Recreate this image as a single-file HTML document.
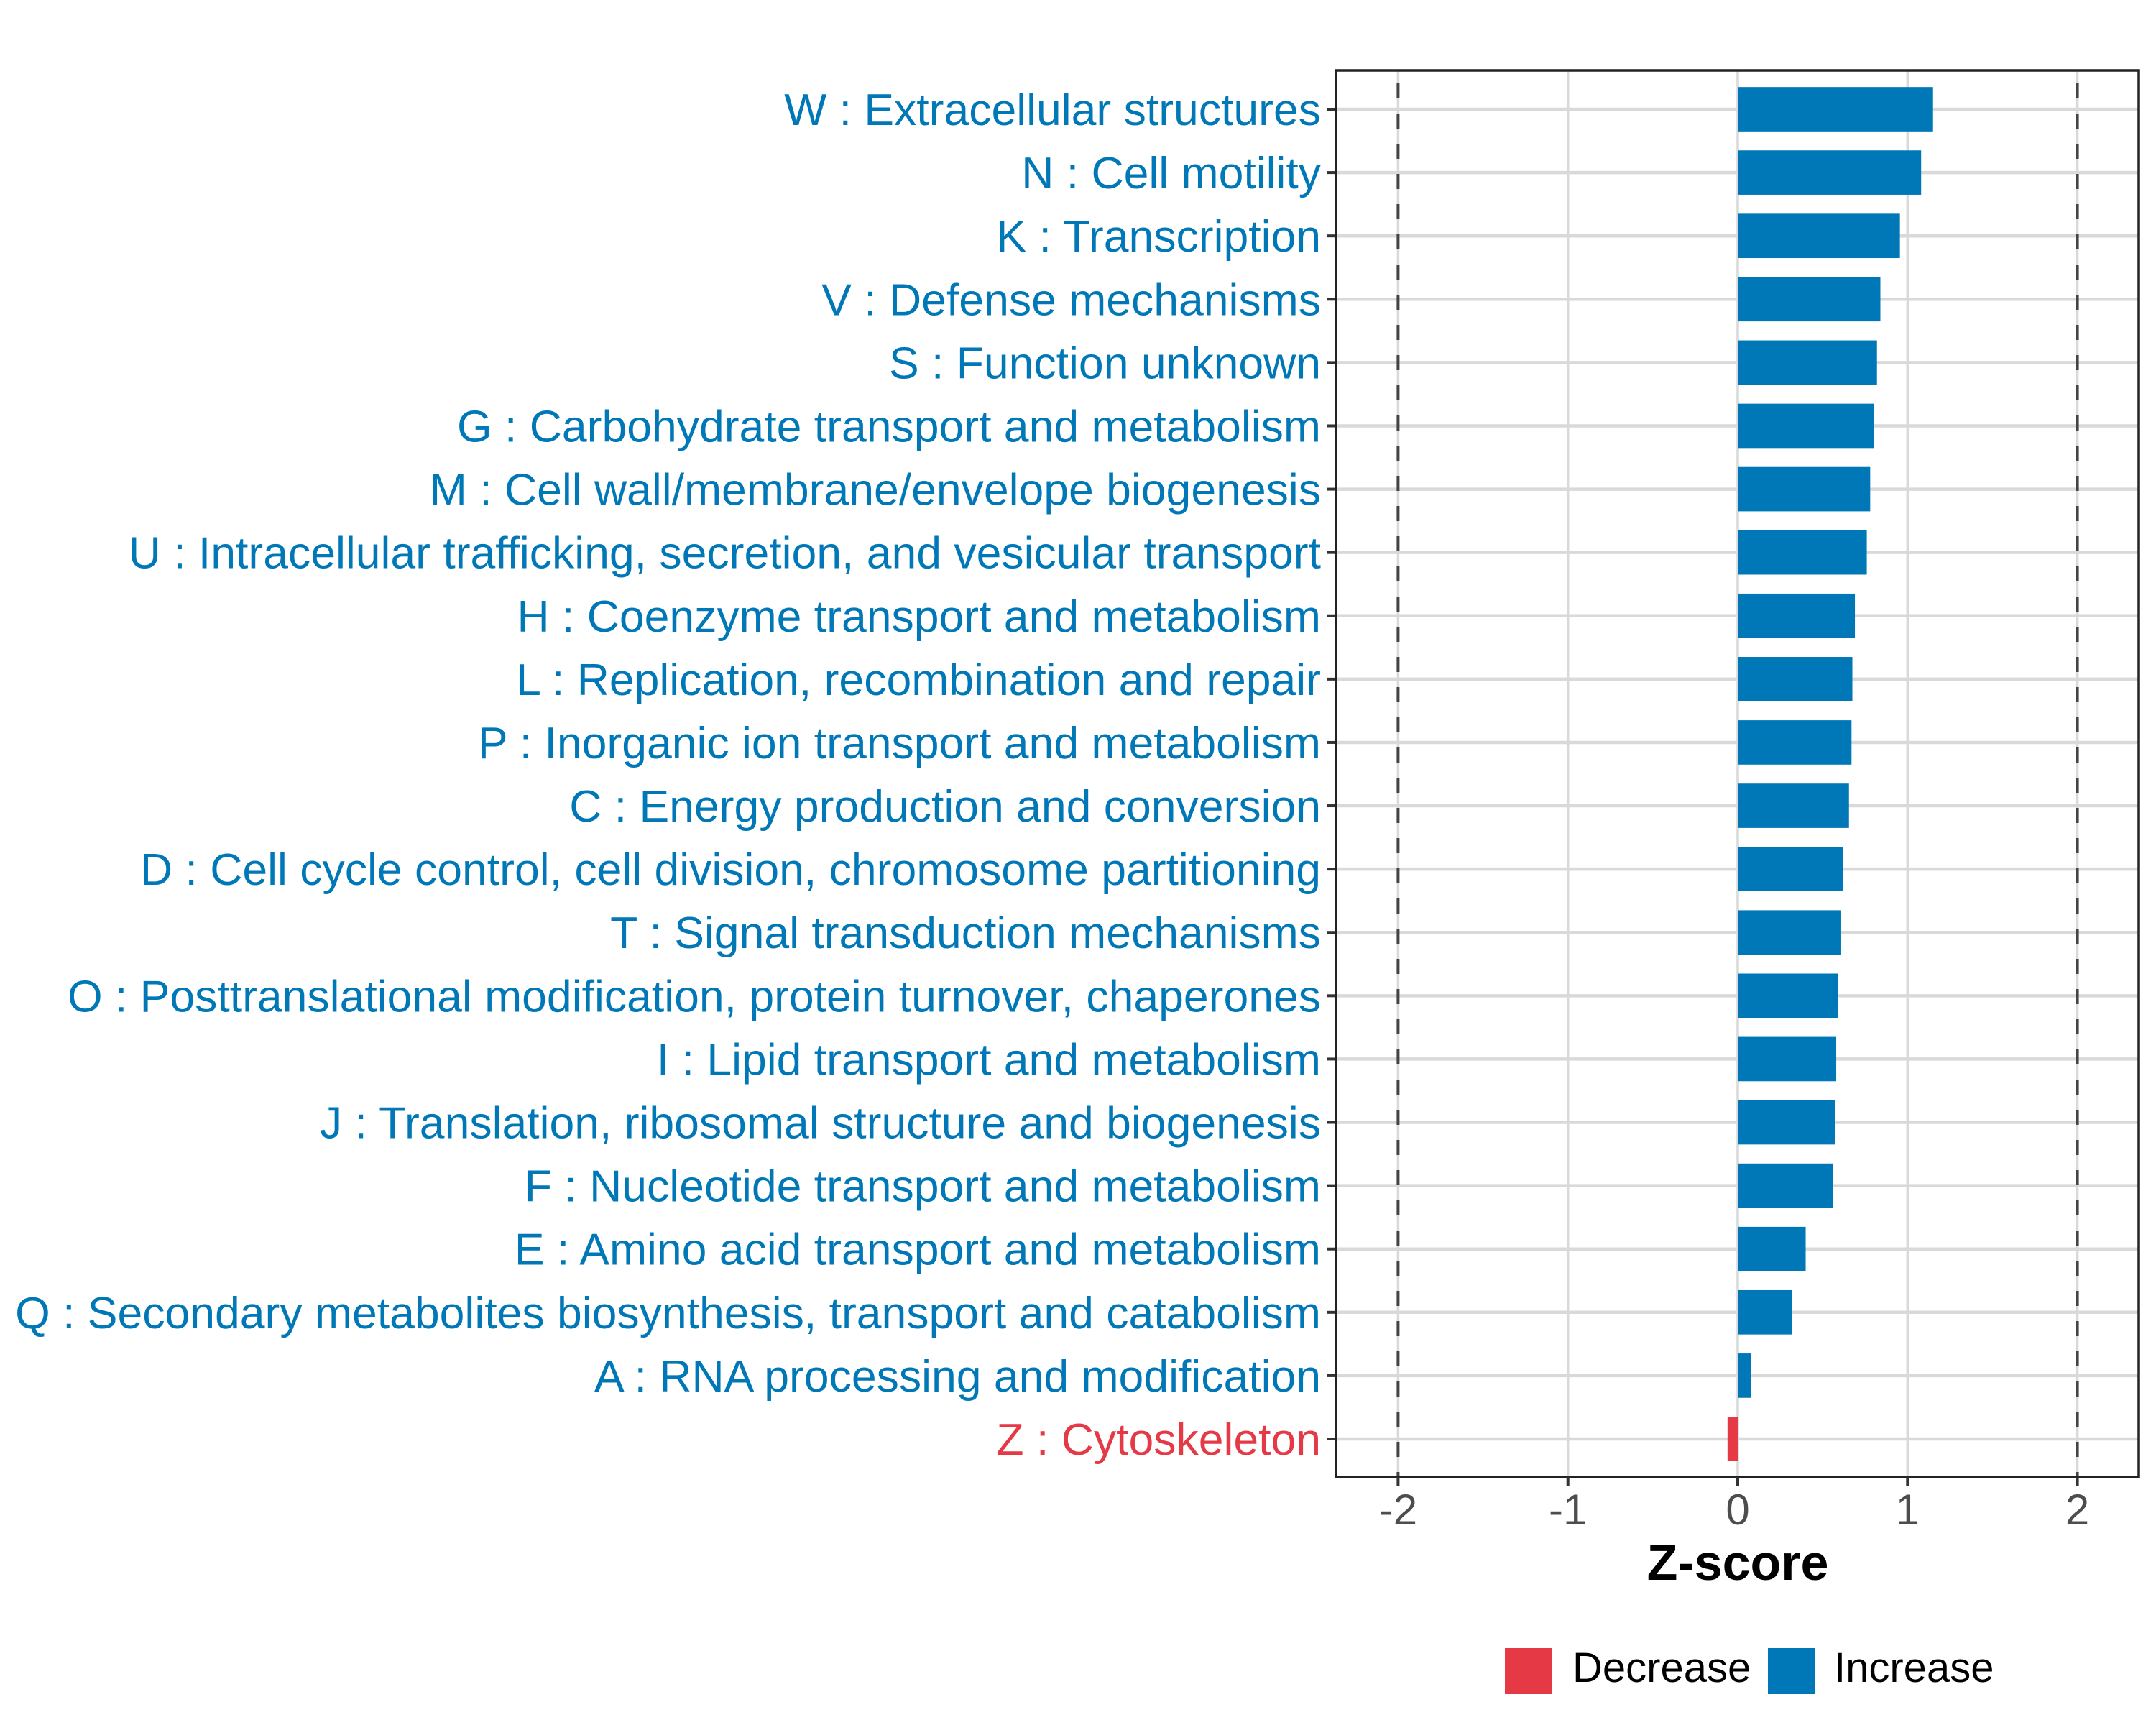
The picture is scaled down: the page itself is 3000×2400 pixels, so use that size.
<!DOCTYPE html>
<html><head><meta charset="utf-8"><style>
html,body{margin:0;padding:0;background:#fff;}
svg{display:block;font-family:"Liberation Sans",Arial,sans-serif;}
</style></head><body>
<svg id="chart" width="3000" height="2400" viewBox="0 0 3000 2400" xmlns="http://www.w3.org/2000/svg">
<rect width="3000" height="2400" fill="#fff"/>
<g id="grid"></g><g id="refs"></g><g id="bars"></g><g id="axes"></g><g id="labels"></g>
<text x="2418" y="2198" font-size="70" font-weight="bold" text-anchor="middle" fill="#000">Z-score</text>
<g>
<rect x="2094" y="2293" width="66" height="64" fill="#E63946"/>
<text x="2188" y="2340" font-size="58" fill="#000">Decrease</text>
<rect x="2460" y="2293" width="66" height="64" fill="#0077B6"/>
<text x="2552" y="2340" font-size="58" fill="#000">Increase</text>
</g>
</svg>
<script>
const categories = ["W : Extracellular structures","N : Cell motility","K : Transcription","V : Defense mechanisms","S : Function unknown","G : Carbohydrate transport and metabolism","M : Cell wall/membrane/envelope biogenesis","U : Intracellular trafficking, secretion, and vesicular transport","H : Coenzyme transport and metabolism","L : Replication, recombination and repair","P : Inorganic ion transport and metabolism","C : Energy production and conversion","D : Cell cycle control, cell division, chromosome partitioning","T : Signal transduction mechanisms","O : Posttranslational modification, protein turnover, chaperones","I : Lipid transport and metabolism","J : Translation, ribosomal structure and biogenesis","F : Nucleotide transport and metabolism","E : Amino acid transport and metabolism","Q : Secondary metabolites biosynthesis, transport and catabolism","A : RNA processing and modification","Z : Cytoskeleton"];
const zscores = [1.15,1.08,0.955,0.84,0.82,0.80,0.78,0.76,0.69,0.675,0.67,0.655,0.62,0.605,0.59,0.58,0.575,0.56,0.40,0.32,0.08,-0.06];
const xTicks = [-2,-1,0,1,2];
const xTickLabels = ["-2","-1","0","1","2"];
const refLines = [-2,2];

const NS="http://www.w3.org/2000/svg";
const L=1859,R=2976,T=98,B=2055;
const x0=2418, unit=236.3;
function xs(v){return x0+v*unit;}
const rowTop=152, rowStep=(2002-152)/21;
function ys(i){return rowTop+i*rowStep;}
const barH=rowStep*0.7;
function mk(tag,attrs,parent){const e=document.createElementNS(NS,tag);for(const k in attrs)e.setAttribute(k,attrs[k]);parent.appendChild(e);return e;}
const grid=document.getElementById('grid'),refs=document.getElementById('refs'),bars=document.getElementById('bars'),axes=document.getElementById('axes'),labels=document.getElementById('labels');
for(let i=0;i<xTicks.length;i++){
 const g=mk('line',{x1:xs(xTicks[i]),x2:xs(xTicks[i]),y1:T,y2:B,stroke:'#d9d9d9','stroke-width':3.5},grid);
 
 
}
categories.forEach((c,i)=>{
 const g=mk('line',{x1:L,x2:R,y1:ys(i),y2:ys(i),stroke:'#d9d9d9','stroke-width':4.5},grid);
 
 
});
refLines.forEach(v=>{
 const d=mk('line',{x1:xs(v),x2:xs(v),y1:T,y2:B,stroke:'#444','stroke-width':4,'stroke-dasharray':'21 21','stroke-dashoffset':'-18'},refs);
 
 
});
categories.forEach((c,i)=>{
 const v=zscores[i];
 const col=v<0?'#E63946':'#0077B6';
 const b=mk('rect',{x:Math.min(xs(0),xs(v)),y:ys(i)-barH/2,width:Math.abs(xs(v)-xs(0)),height:barH,fill:col},bars);
 
 
 const t=mk('text',{x:1838,y:ys(i)+22,'font-size':62.5,'text-anchor':'end',fill:col},labels);
 t.textContent=c;
 
 
 const tk=mk('line',{x1:1846,x2:L,y1:ys(i),y2:ys(i),stroke:'#333','stroke-width':4},axes);
 
 
});
const frame=mk('rect',{x:L,y:T,width:R-L,height:B-T,fill:'none',stroke:'#222','stroke-width':3.5},axes);


xTicks.forEach((v,i)=>{
 const tk=mk('line',{x1:xs(v),x2:xs(v),y1:B,y2:B+13,stroke:'#333','stroke-width':4},axes);
 
 
 const t=mk('text',{x:xs(v),y:2121,'font-size':60,'text-anchor':'middle',fill:'#4d4d4d'},axes);
 t.textContent=xTickLabels[i];
 
 
});
</script>
</body></html>
